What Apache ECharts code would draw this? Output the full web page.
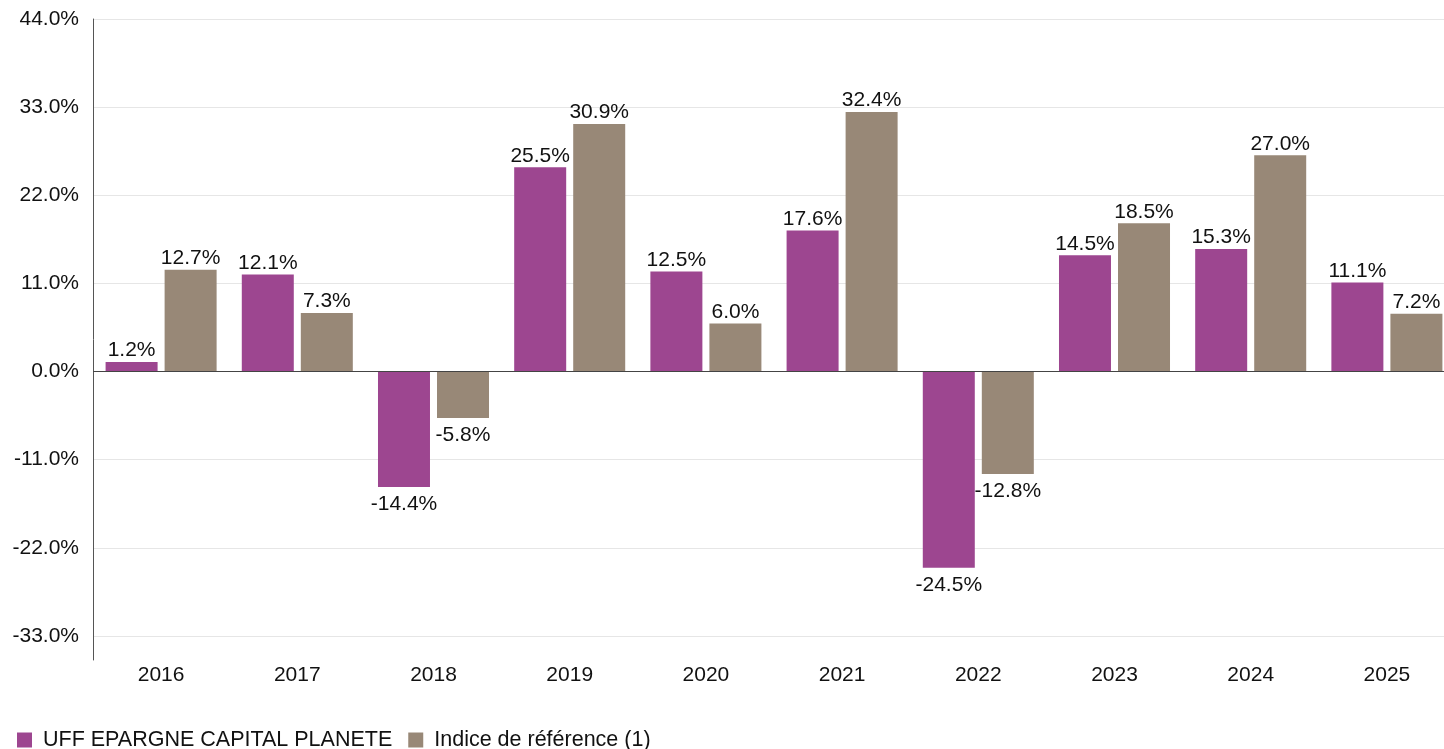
<!DOCTYPE html>
<html>
<head>
<meta charset="utf-8">
<script src="https://cdn.jsdelivr.net/npm/echarts@6/dist/echarts.min.js"></script>
<style>html,body{margin:0;padding:0;background:#fff}#c{width:1444px;height:749px}</style>
</head>
<body>
<div id="c"></div>
<script>
const categories = ['2016','2017','2018','2019','2020','2021','2022','2023','2024','2025'];
const fundValues = [1.2, 12.1, -14.4, 25.5, 12.5, 17.6, -24.5, 14.5, 15.3, 11.1];
const indexValues = [12.7, 7.3, -5.8, 30.9, 6.0, 32.4, -12.8, 18.5, 27.0, 7.2];
const yTicks = [-33, -22, -11, 0, 11, 22, 33, 44];
const seriesNames = ['UFF EPARGNE CAPITAL PLANETE', 'Indice de référence (1)'];

const font = '"Liberation Sans", Arial, sans-serif';
function toData(arr) {
  return arr.map(v => ({
    value: v,
    label: v < 0 ? { position: 'bottom', distance: 7 } : { position: 'top', distance: 1 }
  }));
}
const labelStyle = {
  show: true, color: '#111', fontSize: 21, fontFamily: font,
  formatter: p => p.value.toFixed(1) + '%'
};
const chart = echarts.init(document.getElementById('c'));
chart.setOption({
  animation: false,
  textStyle: { fontFamily: font },
  grid: { left: 93, width: 1362, top: 19, bottom: 89, containLabel: false, outerBoundsMode: 'none' },
  legend: {
    left: 12, top: 724, itemWidth: 15, itemHeight: 15, itemGap: 16, icon: 'rect',
    textStyle: { fontSize: 21.5, color: '#111', fontFamily: font, padding: [0, 0, 0, 6] },
    data: seriesNames
  },
  xAxis: {
    type: 'category', data: categories,
    axisLine: { show: false, onZero: false },
    axisTick: { show: false },
    axisLabel: { color: '#111', fontSize: 21, margin: 5, fontFamily: font }
  },
  yAxis: {
    type: 'value', min: -36, max: 44,
    axisLine: { show: true, lineStyle: { color: '#555', width: 1 } },
    axisTick: { show: false, customValues: yTicks },
    axisLabel: { customValues: yTicks, color: '#111', fontSize: 21, margin: 14, fontFamily: font,
      padding: [4, 0, 0, 0],
      formatter: v => v.toFixed(1) + '%' },
    splitLine: { show: true, lineStyle: { color: '#e6e6e6', width: 1 } }
  },
  series: [
    {
      name: seriesNames[0], type: 'bar', data: toData(fundValues),
      barWidth: 52, barGap: '13.5%',
      itemStyle: { color: '#9D4690' },
      label: labelStyle,
      markLine: {
        silent: true, symbol: 'none', label: { show: false },
        lineStyle: { color: '#444', width: 1, type: 'solid' },
        data: [{ yAxis: 0 }]
      }
    },
    {
      name: seriesNames[1], type: 'bar', data: toData(indexValues),
      barWidth: 52, barGap: '13.5%',
      itemStyle: { color: '#988877' },
      label: labelStyle
    }
  ]
});
</script>
</body>
</html>
